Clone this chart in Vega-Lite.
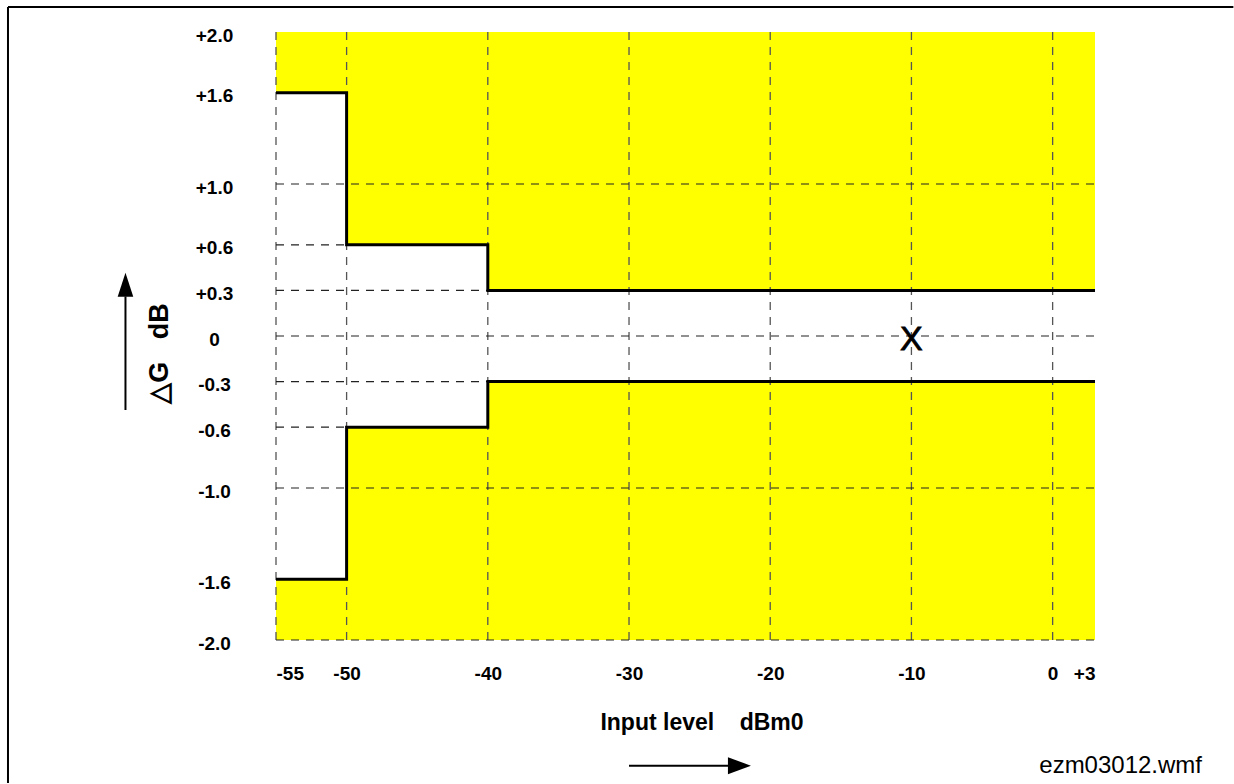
{
  "$schema": "https://vega.github.io/schema/vega-lite/v6.json",
  "width": 819,
  "height": 608,
  "autosize": {"type": "none"},
  "padding": {"left": 276, "top": 32, "right": 139, "bottom": 144},
  "background": "white",
  "config": {
    "view": {"stroke": null},
    "font": "Liberation Sans",
    "axis": {"domain": false, "ticks": false, "grid": false, "labelFont": "Liberation Sans", "labelFontWeight": "bold", "labelFontSize": 19, "labelColor": "black"}
  },
  "datasets": {
    "upper": [{"x": -55, "y": 1.6}, {"x": -50, "y": 0.6}, {"x": -40, "y": 0.3}, {"x": 3, "y": 0.3}],
    "lower": [{"x": -55, "y": -1.6}, {"x": -50, "y": -0.6}, {"x": -40, "y": -0.3}, {"x": 3, "y": -0.3}],
    "vgrid": [{"x": -55}, {"x": -50}, {"x": -40}, {"x": -30}, {"x": -20}, {"x": -10}, {"x": 0}],
    "hgrid": [
      {"y": 1.0, "x": -55, "xend": 3},
      {"y": 0.6, "x": -55, "xend": -50},
      {"y": 0.3, "x": -55, "xend": 3},
      {"y": 0, "x": -55, "xend": 3},
      {"y": -0.3, "x": -55, "xend": 3},
      {"y": -0.6, "x": -55, "xend": -50},
      {"y": -1.0, "x": -55, "xend": 3},
      {"y": -2.0, "x": -55, "xend": 3}
    ],
    "point": [{"x": -10, "y": 0, "label": "X"}],
    "one": [{}]
  },
  "layer": [
    {
      "data": {"name": "upper"},
      "mark": {"type": "area", "interpolate": "step-after", "color": "#FFFF00"},
      "encoding": {
        "x": {"field": "x", "type": "quantitative", "title": null, "scale": {"domain": [-55, 3], "nice": false, "zero": false},
              "axis": {"values": [-55, -50, -40, -30, -20, -10, 0, 3], "labelPadding": 33, "labelBaseline": "middle",
                       "labelExpr": "datum.value == 3 ? '+3' : (datum.value < 0 ? '-' + abs(datum.value) : '0')"}},
        "y": {"field": "y", "type": "quantitative", "title": null, "scale": {"domain": [-2, 2], "nice": false, "zero": false},
              "axis": {"values": [2, 1.6, 1, 0.6, 0.3, 0, -0.3, -0.6, -1, -1.6, -2], "labelPadding": 62, "labelAlign": "center", "labelBaseline": "middle", "labelOffset": 3,
                       "labelExpr": "datum.value > 0 ? '+' + format(datum.value, '.1f') : (datum.value == 0 ? '0' : '-' + format(abs(datum.value), '.1f'))"}},
        "y2": {"datum": 2}
      }
    },
    {
      "data": {"name": "lower"},
      "mark": {"type": "area", "interpolate": "step-after", "color": "#FFFF00"},
      "encoding": {
        "x": {"field": "x", "type": "quantitative", "title": null},
        "y": {"field": "y", "type": "quantitative", "title": null},
        "y2": {"datum": -2}
      }
    },
    {
      "data": {"name": "vgrid"},
      "mark": {"type": "rule", "color": "#555555", "strokeWidth": 1.3, "strokeDash": [8, 7]},
      "encoding": {
        "x": {"field": "x", "type": "quantitative", "title": null},
        "y": {"datum": -2},
        "y2": {"datum": 2.02}
      }
    },
    {
      "data": {"name": "hgrid"},
      "mark": {"type": "rule", "color": "#222222", "strokeWidth": 1.2, "strokeDash": [8, 7]},
      "encoding": {
        "y": {"field": "y", "type": "quantitative", "title": null},
        "x": {"field": "x", "type": "quantitative", "title": null},
        "x2": {"field": "xend"}
      }
    },
    {
      "data": {"name": "upper"},
      "mark": {"type": "line", "interpolate": "step-after", "color": "black", "strokeWidth": 3},
      "encoding": {
        "x": {"field": "x", "type": "quantitative", "title": null},
        "y": {"field": "y", "type": "quantitative", "title": null}
      }
    },
    {
      "data": {"name": "lower"},
      "mark": {"type": "line", "interpolate": "step-after", "color": "black", "strokeWidth": 3},
      "encoding": {
        "x": {"field": "x", "type": "quantitative", "title": null},
        "y": {"field": "y", "type": "quantitative", "title": null}
      }
    },
    {
      "data": {"name": "point"},
      "mark": {"type": "text", "fontSize": 34, "font": "Liberation Sans", "align": "center", "baseline": "alphabetic", "dy": 14, "color": "black", "stroke": "black", "strokeWidth": 0.8},
      "encoding": {
        "x": {"field": "x", "type": "quantitative", "title": null},
        "y": {"field": "y", "type": "quantitative", "title": null},
        "text": {"field": "label"}
      }
    },
    {
      "data": {"name": "one"},
      "mark": {"type": "rule", "color": "black", "strokeWidth": 2},
      "encoding": {"x": {"datum": -73.98}, "x2": {"datum": 12.8}, "y": {"datum": 2.1645}}
    },
    {
      "data": {"name": "one"},
      "mark": {"type": "rule", "color": "black", "strokeWidth": 2},
      "encoding": {"x": {"datum": -73.98}, "y": {"datum": 2.1645}, "y2": {"datum": -2.94}}
    },
    {
      "data": {"name": "one"},
      "mark": {"type": "rule", "color": "black", "strokeWidth": 2},
      "encoding": {"x": {"datum": -65.66}, "y": {"datum": -0.487}, "y2": {"datum": 0.26}}
    },
    {
      "data": {"name": "one"},
      "mark": {"type": "point", "filled": true, "color": "black", "opacity": 1, "size": 576, "shape": "M-0.65,1L0,-1L0.65,1Z"},
      "encoding": {"x": {"datum": -65.66}, "y": {"datum": 0.3375}}
    },
    {
      "data": {"name": "one"},
      "mark": {"type": "rule", "color": "black", "strokeWidth": 2},
      "encoding": {"x": {"datum": -30.0}, "x2": {"datum": -22.9}, "y": {"datum": -2.827}}
    },
    {
      "data": {"name": "one"},
      "mark": {"type": "point", "filled": true, "color": "black", "opacity": 1, "size": 529, "shape": "M-1,-0.74L1,0L-1,0.74Z"},
      "encoding": {"x": {"datum": -22.18}, "y": {"datum": -2.827}}
    },
    {
      "data": {"name": "one"},
      "mark": {"type": "text", "text": "△G\u00a0\u00a0\u00a0dB", "angle": 270, "fontSize": 27, "fontWeight": "bold", "align": "center", "baseline": "middle", "color": "black"},
      "encoding": {"x": {"datum": -63.21}, "y": {"datum": -0.115}}
    },
    {
      "data": {"name": "one"},
      "mark": {"type": "text", "text": "Input level\u00a0\u00a0\u00a0\u00a0dBm0", "fontSize": 23, "fontWeight": "bold", "align": "center", "baseline": "alphabetic", "color": "black"},
      "encoding": {"x": {"datum": -24.83}, "y": {"datum": -2.592}}
    },
    {
      "data": {"name": "one"},
      "mark": {"type": "text", "text": "ezm03012.wmf", "fontSize": 24, "align": "right", "baseline": "alphabetic", "color": "black"},
      "encoding": {"x": {"datum": 10.58}, "y": {"datum": -2.875}}
    }
  ]
}
